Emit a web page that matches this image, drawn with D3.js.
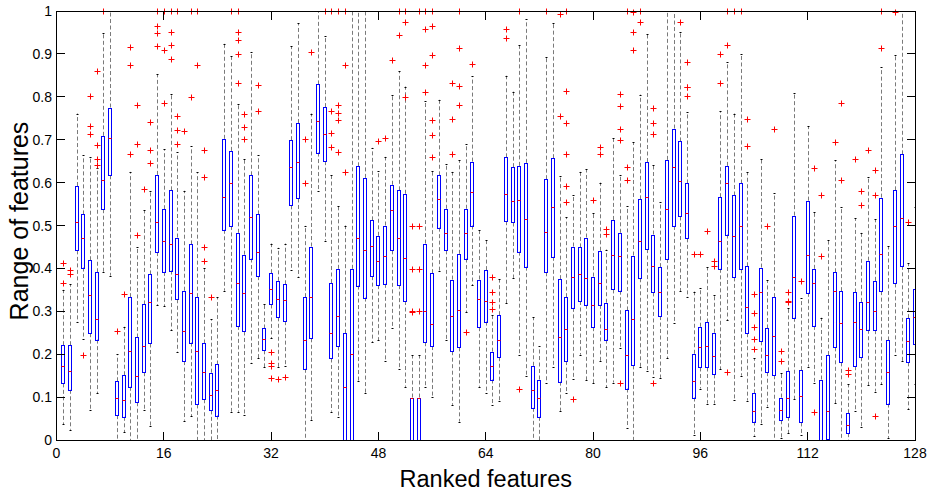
<!DOCTYPE html>
<html><head><meta charset="utf-8">
<script src="https://cdn.jsdelivr.net/npm/d3@7"></script>
<style>body{margin:0;background:#fff}</style>
</head><body>
<svg id="c" width="933" height="494"></svg>
<script>
const features = d3.range(1, 129);
const whiskerLow = [
0.037,0.024,0.274,0.235,0.070,0.109,0.392,0.383,
0,0.018,0,0,0.071,0.032,0.315,0.312,
0.256,0.206,0.045,0.055,0,0,0,0,
0.348,0.066,0.066,0.058,0.180,0.190,0.169,0.237,
0.169,0.172,0.396,0.380,0,0.047,0.580,0.465,
0.066,0.054,0,0,0.138,0.110,0.228,0.232,
0.184,0.260,0.166,0.124,0,0,0.124,0.101,
0.395,0.232,0.082,0.043,0.298,0.361,0.124,0.110,
0.082,0.091,0.319,0.378,0.199,0.150,0,0,
0.134,0.170,0.068,0.110,0.142,0.199,0.140,0.132,
0.183,0.123,0.134,0.214,0.029,0,0.169,0.162,
0.148,0.145,0.191,0.272,0.347,0.333,0.012,0.120,
0.085,0.085,0.165,0.279,0.094,0.150,0.092,0.010,
0.037,0.078,0,0.004,0.016,0.095,0.012,0.171,
0.132,0,0,0.086,0,0,0.068,0.031,
0.128,0.113,0.130,0.005,0.199,0.184,0.072,0.130];
const q1 = [
0.132,0.117,0.442,0.402,0.249,0.234,0.538,0.617,
0.058,0.054,0.124,0.088,0.158,0.225,0.438,0.392,
0.395,0.328,0.184,0.227,0.083,0.095,0.069,0.057,
0.490,0.499,0.266,0.253,0.423,0.382,0.209,0.316,
0.286,0.277,0.547,0.563,0.166,0.237,0.670,0.650,
0.190,0.218,0,0,0.360,0.332,0.382,0.361,
0.364,0.442,0.361,0.324,0,0,0.228,0.219,
0.495,0.442,0.207,0.216,0.423,0.500,0.263,0.276,
0.141,0.193,0.510,0.507,0.439,0.404,0.075,0.054,
0.391,0.427,0.136,0.184,0.308,0.324,0.315,0.263,
0.315,0.234,0.351,0.348,0.120,0.174,0.377,0.445,
0.344,0.289,0.422,0.499,0.521,0.470,0.099,0.169,
0.169,0.153,0.399,0.479,0.379,0.398,0.249,0.043,
0.230,0.158,0.151,0.046,0.054,0.285,0.041,0.343,
0.266,0,0.002,0.216,0.181,0.016,0.172,0.193,
0.257,0.256,0.347,0.085,0.365,0.406,0.181,0.224];
const median = [
0.173,0.162,0.508,0.471,0.338,0.281,0.607,0.705,
0.097,0.093,0.207,0.149,0.219,0.322,0.507,0.463,
0.456,0.388,0.255,0.342,0.207,0.159,0.105,0.117,
0.566,0.598,0.366,0.342,0.520,0.439,0.235,0.353,
0.328,0.326,0.636,0.648,0.232,0.333,0.744,0.713,
0.249,0.290,0.124,0.200,0.472,0.444,0.452,0.417,
0.428,0.535,0.472,0.424,0.099,0.099,0.301,0.270,
0.561,0.482,0.290,0.304,0.482,0.577,0.328,0.323,
0.172,0.234,0.573,0.556,0.559,0.514,0.116,0.097,
0.486,0.543,0.240,0.259,0.380,0.387,0.377,0.315,
0.366,0.259,0.432,0.430,0.197,0.282,0.463,0.566,
0.406,0.346,0.538,0.636,0.603,0.528,0.138,0.217,
0.218,0.195,0.465,0.599,0.476,0.499,0.311,0.068,
0.346,0.198,0.242,0.069,0.099,0.381,0.103,0.431,
0.367,0,0.068,0.347,0.272,0.035,0.275,0.258,
0.322,0.300,0.434,0.159,0.499,0.518,0.230,0.287];
const q3 = [
0.221,0.221,0.592,0.526,0.419,0.391,0.709,0.775,
0.137,0.151,0.333,0.239,0.316,0.386,0.618,0.538,
0.582,0.472,0.348,0.456,0.333,0.225,0.157,0.176,
0.702,0.674,0.483,0.432,0.617,0.526,0.260,0.389,
0.371,0.363,0.699,0.739,0.333,0.451,0.829,0.776,
0.366,0.399,0.249,0.399,0.638,0.611,0.512,0.476,
0.500,0.595,0.582,0.574,0.099,0.099,0.458,0.389,
0.617,0.539,0.374,0.434,0.539,0.649,0.374,0.396,
0.206,0.291,0.659,0.636,0.639,0.646,0.173,0.141,
0.608,0.657,0.375,0.333,0.451,0.449,0.472,0.381,
0.441,0.320,0.513,0.483,0.302,0.430,0.561,0.648,
0.479,0.403,0.653,0.726,0.696,0.598,0.201,0.264,
0.274,0.250,0.566,0.639,0.570,0.598,0.405,0.109,
0.402,0.260,0.333,0.099,0.160,0.523,0.163,0.558,
0.399,0.141,0.198,0.391,0.347,0.062,0.344,0.322,
0.418,0.371,0.565,0.232,0.582,0.666,0.284,0.353];
const whiskerHigh = [
0.350,0.363,0.761,0.664,0.660,0.633,0.948,1.0,
0.200,0.264,0.625,0.449,0.536,0.580,0.852,0.678,
0.807,0.671,0.581,0.685,0.624,0.400,0.281,0.333,
0.924,0.894,0.783,0.656,0.905,0.664,0.316,0.458,
0.448,0.458,0.918,0.971,0.500,0.761,1.0,0.942,
0.617,0.545,0.500,1.0,1.0,1.0,0.681,0.627,
0.660,0.804,0.860,0.824,0.198,0.198,0.791,0.627,
0.793,0.643,0.625,0.652,0.689,0.848,0.490,0.467,
0.291,0.375,0.849,0.812,0.920,0.981,0.286,0.218,
0.892,0.971,0.615,0.519,0.571,0.625,0.631,0.528,
0.600,0.444,0.703,0.618,0.545,0.694,0.805,0.946,
0.640,0.554,1.0,1.0,0.952,0.764,0.346,0.355,
0.403,0.338,0.767,0.880,0.761,0.899,0.624,0.190,
0.654,0.372,0.575,0.156,0.307,0.810,0.330,0.731,
0.532,0.285,0.466,0.652,0.544,0.130,0.517,0.483,
0.612,0.514,0.869,0.452,0.897,1.0,0.412,0.544];
const outliers = [
[0.412,0.367],[0.396,0.386],[],[0.198],[0.803,0.732,0.714],[0.859,0.687,0.656,0.640],[1],[],
[0.254],[0.340],[0.916,0.874,0.666],[0.781,0.690,0.478],[0.586],[0.741,0.677,0.645],[1,0.964,0.949,0.918],[1,0.909,0.786],
[1,0.952,0.920,0.887],[1,0.755,0.723,0.691],[0.720],[1,0.799],[1,0.874],[0.677,0.612,0.451,0.418],[0.333],[],
[],[1],[1,0.950,0.933,0.900,0.833],[0.761,0.730,0.701],[],[0.827,0.766],[],[0.206,0.179,0.172,0.145],
[0.142],[0.147],[],[],[0.701,0.600],[0.904],[],[1],
[1,0.766,0.716,0.683],[1,0.782,0.763,0.745,0.672],[1,0.874,0.625],[],[],[],[],[0.697],
[0.703],[0.886],[1,0.944],[1,0.975,0.800],[0.500,0.399,0.301,0.298],[1,0.500,0.399,0.301],[1,0.958,0.875,0.812],[1,0.966,0.898,0.745,0.711,0.660],
[],[],[0.833,0.749,0.667],[1,0.913,0.826,0.782],[0.251],[0.876],[],[],
[0.379,0.346,0.322,0.305],[],[0.957,0.936],[],[1,0.119],[],[],[],
[1],[],[0.994,0.755],[1,0.814,0.740,0.667,0.592,0.555],[0.095],[],[],[0.559],
[0.682,0.667],[0.493,0.481],[],[0.806,0.779,0.725,0.699,0.134],[1,0.636,0.606],[0.997,0.950,0.908],[1,0.975],[],
[0.775,0.738,0.714,0.134],[],[],[],[0.975],[0.882,0.824,0.823,0.803],[0.434],[0.434],
[0.487],[0.418,0.405],[0.900,0.833],[1,0.920,0.159],[1],[1],[0.748,0.686],[0.340,0.295,0.264,0.235,0.211],
[],[0.500],[0.726],[0.208,0.183],[0.346,0.324,0.322],[],[0.371],[],
[0.633,0.066],[0.570,0.428],[],[0.695],[0.786,0.605],[0.163,0.153],[0.654],[0.580,0.548],
[0.676],[0.629,0.570,0.056],[1,0.913],[],[0.998],[],[0.508],[]];
const xTicks = [0, 16, 32, 48, 64, 80, 96, 112, 128];
const yTicks = [0, 0.1, 0.2, 0.3, 0.4, 0.5, 0.6, 0.7, 0.8, 0.9, 1];
const yTickLabels = ["0","0.1","0.2","0.3","0.4","0.5","0.6","0.7","0.8","0.9","1"];
const xLabel = "Ranked features";
const yLabel = "Range of features";

const L = 56.5, R = 915, T = 11, B = 440;
const svg = d3.select("#c");
const x = d3.scaleLinear().domain([0, 128]).range([L, R]);
const y = d3.scaleLinear().domain([0, 1]).range([B, T]);
const font = "'Liberation Sans', Arial, Helvetica, sans-serif";

svg.append("defs").append("clipPath").attr("id", "clip")
  .append("rect").attr("x", L).attr("y", T).attr("width", R - L).attr("height", B - T);

const data = features.map((f, i) => ({f, lo: whiskerLow[i], q1: q1[i], med: median[i], q3: q3[i], hi: whiskerHigh[i], out: outliers[i]}));
const cxOf = d => Math.round(x(d.f));
const sy = v => Math.round(y(v)) + 0.5;

const g = svg.append("g").attr("clip-path", "url(#clip)");
// whiskers
g.selectAll(".wu").data(data).join("line")
  .attr("x1", d => cxOf(d) + 0.5).attr("x2", d => cxOf(d) + 0.5)
  .attr("y1", d => y(d.q3)).attr("y2", d => y(d.hi))
  .attr("stroke", "#7a7a7a").attr("stroke-width", 1).attr("stroke-dasharray", "4,2.5");
g.selectAll(".wl").data(data).join("line")
  .attr("x1", d => cxOf(d) + 0.5).attr("x2", d => cxOf(d) + 0.5)
  .attr("y1", d => y(d.q1)).attr("y2", d => y(d.lo))
  .attr("stroke", "#7a7a7a").attr("stroke-width", 1).attr("stroke-dasharray", "4,2.5");
// caps
g.selectAll(".cu").data(data).join("line")
  .attr("x1", d => cxOf(d) - 0.5).attr("x2", d => cxOf(d) + 1.5)
  .attr("y1", d => sy(d.hi)).attr("y2", d => sy(d.hi))
  .attr("stroke", "#000").attr("stroke-width", 1);
g.selectAll(".cl").data(data).join("line")
  .attr("x1", d => cxOf(d) - 0.5).attr("x2", d => cxOf(d) + 1.5)
  .attr("y1", d => sy(d.lo)).attr("y2", d => sy(d.lo))
  .attr("stroke", "#000").attr("stroke-width", 1);
// boxes
g.selectAll(".box").data(data).join("rect")
  .attr("x", d => cxOf(d) - 1.5).attr("width", 3)
  .attr("y", d => sy(d.q3)).attr("height", d => Math.max(0.01, sy(d.q1) - sy(d.q3)))
  .attr("fill", "none").attr("stroke", "#0000ff").attr("stroke-width", 1);
// medians
g.selectAll(".med").data(data).join("line")
  .attr("x1", d => cxOf(d) - 1.5).attr("x2", d => cxOf(d) + 1.5)
  .attr("y1", d => sy(d.med)).attr("y2", d => sy(d.med))
  .attr("stroke", "#ff0000").attr("stroke-width", 1);
// outliers
const outPts = data.flatMap(d => d.out.map(v => ({f: d.f, v})));
svg.append("g").selectAll("path").data(outPts).join("path")
  .attr("d", d => { const cx = Math.round(x(d.f)) + 0.5, cy = sy(d.v); return `M${cx-3},${cy}H${cx+3}M${cx},${cy-3}V${cy+3}`; })
  .attr("stroke", "#ff0000").attr("stroke-width", 1).attr("fill", "none");

// axes frame
const ax = svg.append("g").attr("shape-rendering", "crispEdges");
ax.append("rect").attr("x", L).attr("y", T).attr("width", R - L).attr("height", B - T)
  .attr("fill", "none").attr("stroke", "#000").attr("stroke-width", 1);
const tl = 8.5;
xTicks.forEach(t => {
  ax.append("line").attr("x1", x(t)).attr("x2", x(t)).attr("y1", B).attr("y2", B - tl).attr("stroke", "#000");
  ax.append("line").attr("x1", x(t)).attr("x2", x(t)).attr("y1", T).attr("y2", T + tl).attr("stroke", "#000");
  svg.append("text").attr("x", x(t)).attr("y", 458).attr("text-anchor", "middle")
    .attr("font-family", font).attr("font-size", 14).text(String(t));
});
yTicks.forEach((t, i) => {
  ax.append("line").attr("x1", L).attr("x2", L + tl).attr("y1", y(t)).attr("y2", y(t)).attr("stroke", "#000");
  ax.append("line").attr("x1", R).attr("x2", R - tl).attr("y1", y(t)).attr("y2", y(t)).attr("stroke", "#000");
  svg.append("text").attr("x", 52).attr("y", y(t) + 5).attr("text-anchor", "end")
    .attr("font-family", font).attr("font-size", 14).text(yTickLabels[i]);
});
svg.append("text").attr("x", (L + R) / 2).attr("y", 487).attr("text-anchor", "middle")
  .attr("font-family", font).attr("font-size", 23.5).text(xLabel);
svg.append("text").attr("transform", `translate(28,221) rotate(-90)`).attr("text-anchor", "middle")
  .attr("font-family", font).attr("font-size", 25).text(yLabel);
</script>
</body></html>
